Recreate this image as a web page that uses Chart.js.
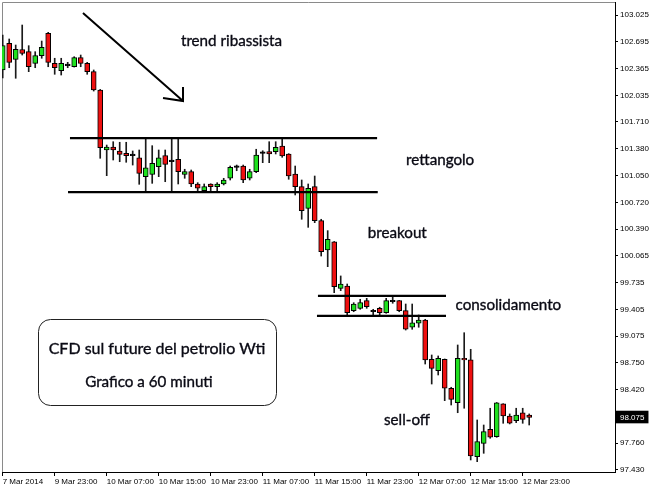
<!DOCTYPE html>
<html>
<head>
<meta charset="utf-8">
<script src="https://cdn.jsdelivr.net/npm/chart.js@4.4.1/dist/chart.umd.min.js"></script>
<style>
  html, body { margin: 0; padding: 0; background: #fff; }
  #wrap { width: 650px; height: 488px; }
</style>
</head>
<body>
<div id="wrap"><canvas id="chart"></canvas></div>
<script>
// hourly bars, index 0 = first visible candle
const timeTickBars = [0, 8, 16, 24, 32, 40, 48, 56, 64, 72, 80];
const timeLabels = ['7 Mar 2014', '9 Mar 23:00', '10 Mar 07:00', '10 Mar 15:00', '10 Mar 23:00',
    '11 Mar 07:00', '11 Mar 15:00', '11 Mar 23:00', '12 Mar 07:00', '12 Mar 15:00', '12 Mar 23:00'];
const priceTicks = [103.025, 102.695, 102.365, 102.035, 101.710, 101.380, 101.050, 100.720, 100.390,
    100.065, 99.735, 99.405, 99.075, 98.750, 98.420, 98.075, 97.760, 97.430];
const lastPrice = 98.075;

const openPrices = [
    102.349, 102.677, 102.480, 102.601, 102.574, 102.431, 102.525, 102.800, 102.431, 102.340,
    102.402, 102.389, 102.500, 102.431, 102.328, 102.103, 101.365, 101.402, 101.353, 101.324,
    101.295, 101.270, 101.037, 101.066, 101.160, 101.295, 101.221, 101.251, 101.066, 101.098,
    100.947, 100.864, 100.947, 100.914, 100.947, 101.017, 101.152, 101.168, 101.017, 101.098,
    101.324, 101.344, 101.344, 101.414, 101.316, 101.070, 100.914, 100.648, 100.914, 100.496,
    100.135, 100.237, 99.664, 99.692, 99.389, 99.418, 99.512, 99.376, 99.418, 99.364,
    99.499, 99.512, 99.389, 99.185, 99.234, 99.274, 98.791, 98.651, 98.791, 98.435,
    98.257, 98.803, 98.783, 97.593, 97.758, 97.930, 97.839, 98.242, 98.094, 98.036,
    98.134, 98.106
];
const highPrices = [
    102.779, 102.730, 102.656, 102.902, 102.648, 102.574, 102.705, 102.812, 102.493, 102.493,
    102.443, 102.512, 102.533, 102.443, 102.349, 102.110, 101.426, 101.467, 101.460, 101.460,
    101.353, 101.365, 101.500, 101.418, 101.365, 101.365, 101.500, 101.497, 101.128, 101.119,
    100.963, 100.947, 100.950, 100.963, 101.017, 101.168, 101.180, 101.180, 101.128, 101.374,
    101.356, 101.467, 101.467, 101.497, 101.320, 101.168, 100.996, 100.947, 101.045, 100.513,
    100.373, 100.240, 99.816, 99.717, 99.487, 99.529, 99.541, 99.406, 99.431, 99.541,
    99.554, 99.515, 99.471, 99.471, 99.336, 99.283, 98.844, 98.832, 98.795, 98.447,
    98.967, 99.118, 98.914, 98.045, 97.983, 98.189, 98.260, 98.245, 98.119, 98.189,
    98.189, 98.119
];
const lowPrices = [
    102.250, 102.377, 102.247, 102.533, 102.328, 102.377, 102.493, 102.389, 102.296, 102.287,
    102.377, 102.385, 102.389, 102.296, 102.090, 101.263, 101.049, 101.242, 101.221, 101.214,
    101.180, 100.943, 100.852, 100.955, 101.037, 100.975, 100.852, 100.947, 101.017, 100.914,
    100.864, 100.852, 100.852, 100.852, 100.935, 100.996, 101.110, 100.963, 100.996, 101.086,
    101.209, 101.209, 101.316, 101.275, 101.005, 100.812, 100.513, 100.414, 100.471, 100.061,
    99.930, 99.610, 99.635, 99.336, 99.376, 99.406, 99.418, 99.336, 99.336, 99.357,
    99.480, 99.376, 99.151, 99.160, 99.185, 98.733, 98.487, 98.598, 98.282, 98.229,
    98.134, 98.189, 97.553, 97.532, 97.635, 97.820, 97.832, 98.004, 97.996, 98.012,
    98.004, 97.983
];
const closePrices = [
    102.648, 102.443, 102.603, 102.552, 102.389, 102.525, 102.628, 102.443, 102.377, 102.431,
    102.402, 102.500, 102.431, 102.328, 102.103, 101.393, 101.402, 101.365, 101.312, 101.295,
    101.295, 101.078, 101.147, 101.201, 101.270, 101.189, 101.221, 101.098, 101.098, 100.947,
    100.894, 100.914, 100.914, 100.947, 100.996, 101.152, 101.152, 100.996, 101.098, 101.303,
    101.324, 101.316, 101.398, 101.291, 101.045, 100.914, 100.619, 100.894, 100.496, 100.114,
    100.267, 99.684, 99.717, 99.364, 99.471, 99.487, 99.438, 99.376, 99.364, 99.512,
    99.499, 99.389, 99.160, 99.241, 99.274, 98.783, 98.680, 98.803, 98.435, 98.299,
    98.803, 98.783, 97.602, 97.778, 97.901, 97.832, 98.257, 98.094, 98.004, 98.106,
    98.053, 98.075
];

// drawn annotations, in bar index / price units
const levelLines = [
    { x0: 10.35, x1: 57.6, y: 101.512 },
    { x0: 10.05, x1: 57.7, y: 100.848 },
    { x0: 48.5, x1: 68.2, y: 99.570 },
    { x0: 48.35, x1: 68.2, y: 99.324 }
];
const trendArrow = { x0: 12.35, y0: 103.050, x1: 27.74, y1: 101.967 };
const notes = [
    { text: 'trend ribassista', x: 35.2, y: 102.705 },
    { text: 'rettangolo', x: 67.3, y: 101.242 },
    { text: 'breakout', x: 60.7, y: 100.344 },
    { text: 'consolidamento', x: 77.8, y: 99.459 },
    { text: 'sell-off', x: 62.2, y: 98.045 }
];
const infoBox = { x0: 5.43, x1: 42.05, y0: 99.287, y1: 98.229 };
const infoLines = [
    { text: 'CFD sul future del petrolio Wti', x: 23.74, y: 98.918, size: 16 },
    { text: 'Grafico a 60 minuti', x: 22.5, y: 98.512, size: 15.2 }
];

const UP = '#1fe01f', DOWN = '#ee1010', DOJI = '#000';
const axisFont = { family: 'Liberation Sans', size: 8 };

const bodies = openPrices.map((o, i) => ({ x: i, y: [o, closePrices[i]] }));
const wicks = lowPrices.map((l, i) => ({ x: i, y: [l, highPrices[i]] }));
const bodyColors = openPrices.map((o, i) =>
    closePrices[i] > o ? UP : closePrices[i] < o ? DOWN : DOJI);

const annotationPlugin = {
    id: 'annotations',
    beforeDraw(chart) {
        const { ctx, chartArea: a } = chart;
        ctx.save();
        ctx.strokeStyle = '#8a8a8a';
        ctx.lineWidth = 1;
        ctx.beginPath();
        ctx.moveTo(a.left + 0.5, a.bottom);
        ctx.lineTo(a.left + 0.5, a.top + 0.5);
        ctx.lineTo(a.right, a.top + 0.5);
        ctx.stroke();
        ctx.restore();
    },
    afterDatasetsDraw(chart) {
        const { ctx, scales: { x, y } } = chart;
        ctx.save();
        ctx.strokeStyle = '#000';
        ctx.lineWidth = 2.2;
        levelLines.forEach(l => {
            const py = y.getPixelForValue(l.y);
            ctx.beginPath();
            ctx.moveTo(x.getPixelForValue(l.x0), py);
            ctx.lineTo(x.getPixelForValue(l.x1), py);
            ctx.stroke();
        });

        // arrow
        const ax0 = x.getPixelForValue(trendArrow.x0), ay0 = y.getPixelForValue(trendArrow.y0);
        const ax1 = x.getPixelForValue(trendArrow.x1), ay1 = y.getPixelForValue(trendArrow.y1);
        ctx.lineWidth = 2;
        ctx.beginPath();
        ctx.moveTo(ax0, ay0);
        ctx.lineTo(ax1, ay1);
        ctx.moveTo(ax1, ay1 - 14);
        ctx.lineTo(ax1, ay1);
        ctx.lineTo(ax1 - 20, ay1 - 3);
        ctx.stroke();

        // info box
        const bx0 = x.getPixelForValue(infoBox.x0), bx1 = x.getPixelForValue(infoBox.x1);
        const by0 = y.getPixelForValue(infoBox.y0), by1 = y.getPixelForValue(infoBox.y1);
        ctx.lineWidth = 1;
        ctx.fillStyle = '#fff';
        ctx.strokeStyle = '#222';
        ctx.beginPath();
        ctx.roundRect(Math.round(bx0) + 0.5, Math.round(by0) + 0.5, Math.round(bx1 - bx0), Math.round(by1 - by0), 12);
        ctx.fill();
        ctx.stroke();

        // labels, slightly stroked to get the heavier look of the original
        ctx.fillStyle = '#0a0a14';
        ctx.strokeStyle = '#0a0a14';
        ctx.lineWidth = 0.35;
        ctx.textAlign = 'center';
        ctx.textBaseline = 'middle';
        notes.concat(infoLines).forEach(n => {
            ctx.font = (n.size || 15.2) + 'px Lato';
            const px = x.getPixelForValue(n.x), py = y.getPixelForValue(n.y);
            ctx.fillText(n.text, px, py);
            ctx.strokeText(n.text, px, py);
        });
        ctx.restore();
    }
};

new Chart(document.getElementById('chart'), {
    type: 'bar',
    data: {
        datasets: [
            {
                label: 'body',
                data: bodies,
                grouped: false,
                order: 0,
                barThickness: 5,
                minBarLength: 1.5,
                backgroundColor: bodyColors,
                borderColor: '#000',
                borderWidth: 1,
                borderSkipped: false
            },
            {
                label: 'wick',
                data: wicks,
                grouped: false,
                order: 1,
                barThickness: 1,
                backgroundColor: '#1a1a1a',
                borderWidth: 0
            }
        ]
    },
    options: {
        responsive: true,
        maintainAspectRatio: false,
        animation: false,
        layout: { padding: { left: 2, top: 2, right: 0, bottom: 0 } },
        plugins: { legend: { display: false }, tooltip: { enabled: false } },
        scales: {
            x: {
                type: 'linear',
                offset: false,
                min: -0.108,
                max: 94.2,
                afterBuildTicks: s => { s.ticks = timeTickBars.map(v => ({ value: v })); },
                afterFit: s => { s.height = 16; s.paddingLeft = 0; s.paddingRight = 0; },
                ticks: {
                    autoSkip: false,
                    maxRotation: 0,
                    align: 'start',
                    padding: 1,
                    color: '#000',
                    font: axisFont,
                    callback: (v, i) => timeLabels[i]
                },
                grid: { offset: false, drawOnChartArea: false, tickLength: 4, color: '#000' },
                border: { color: '#000' }
            },
            y: {
                position: 'right',
                min: 97.405,
                max: 103.185,
                afterBuildTicks: s => { s.ticks = priceTicks.map(v => ({ value: v })); },
                afterFit: s => { s.width = 35; s.paddingTop = 0; s.paddingBottom = 0; },
                ticks: {
                    autoSkip: false,
                    padding: 2,
                    font: axisFont,
                    color: c => c.tick && c.tick.value === lastPrice ? '#fff' : '#000',
                    showLabelBackdrop: c => !!(c.tick && c.tick.value === lastPrice),
                    backdropColor: '#000',
                    backdropPadding: { left: 4, right: 4, top: 2, bottom: 1 },
                    callback: v => v.toFixed(3)
                },
                grid: { drawOnChartArea: false, tickLength: 3, color: '#000' },
                border: { color: '#000' }
            }
        }
    },
    plugins: [annotationPlugin]
});
</script>
</body>
</html>
